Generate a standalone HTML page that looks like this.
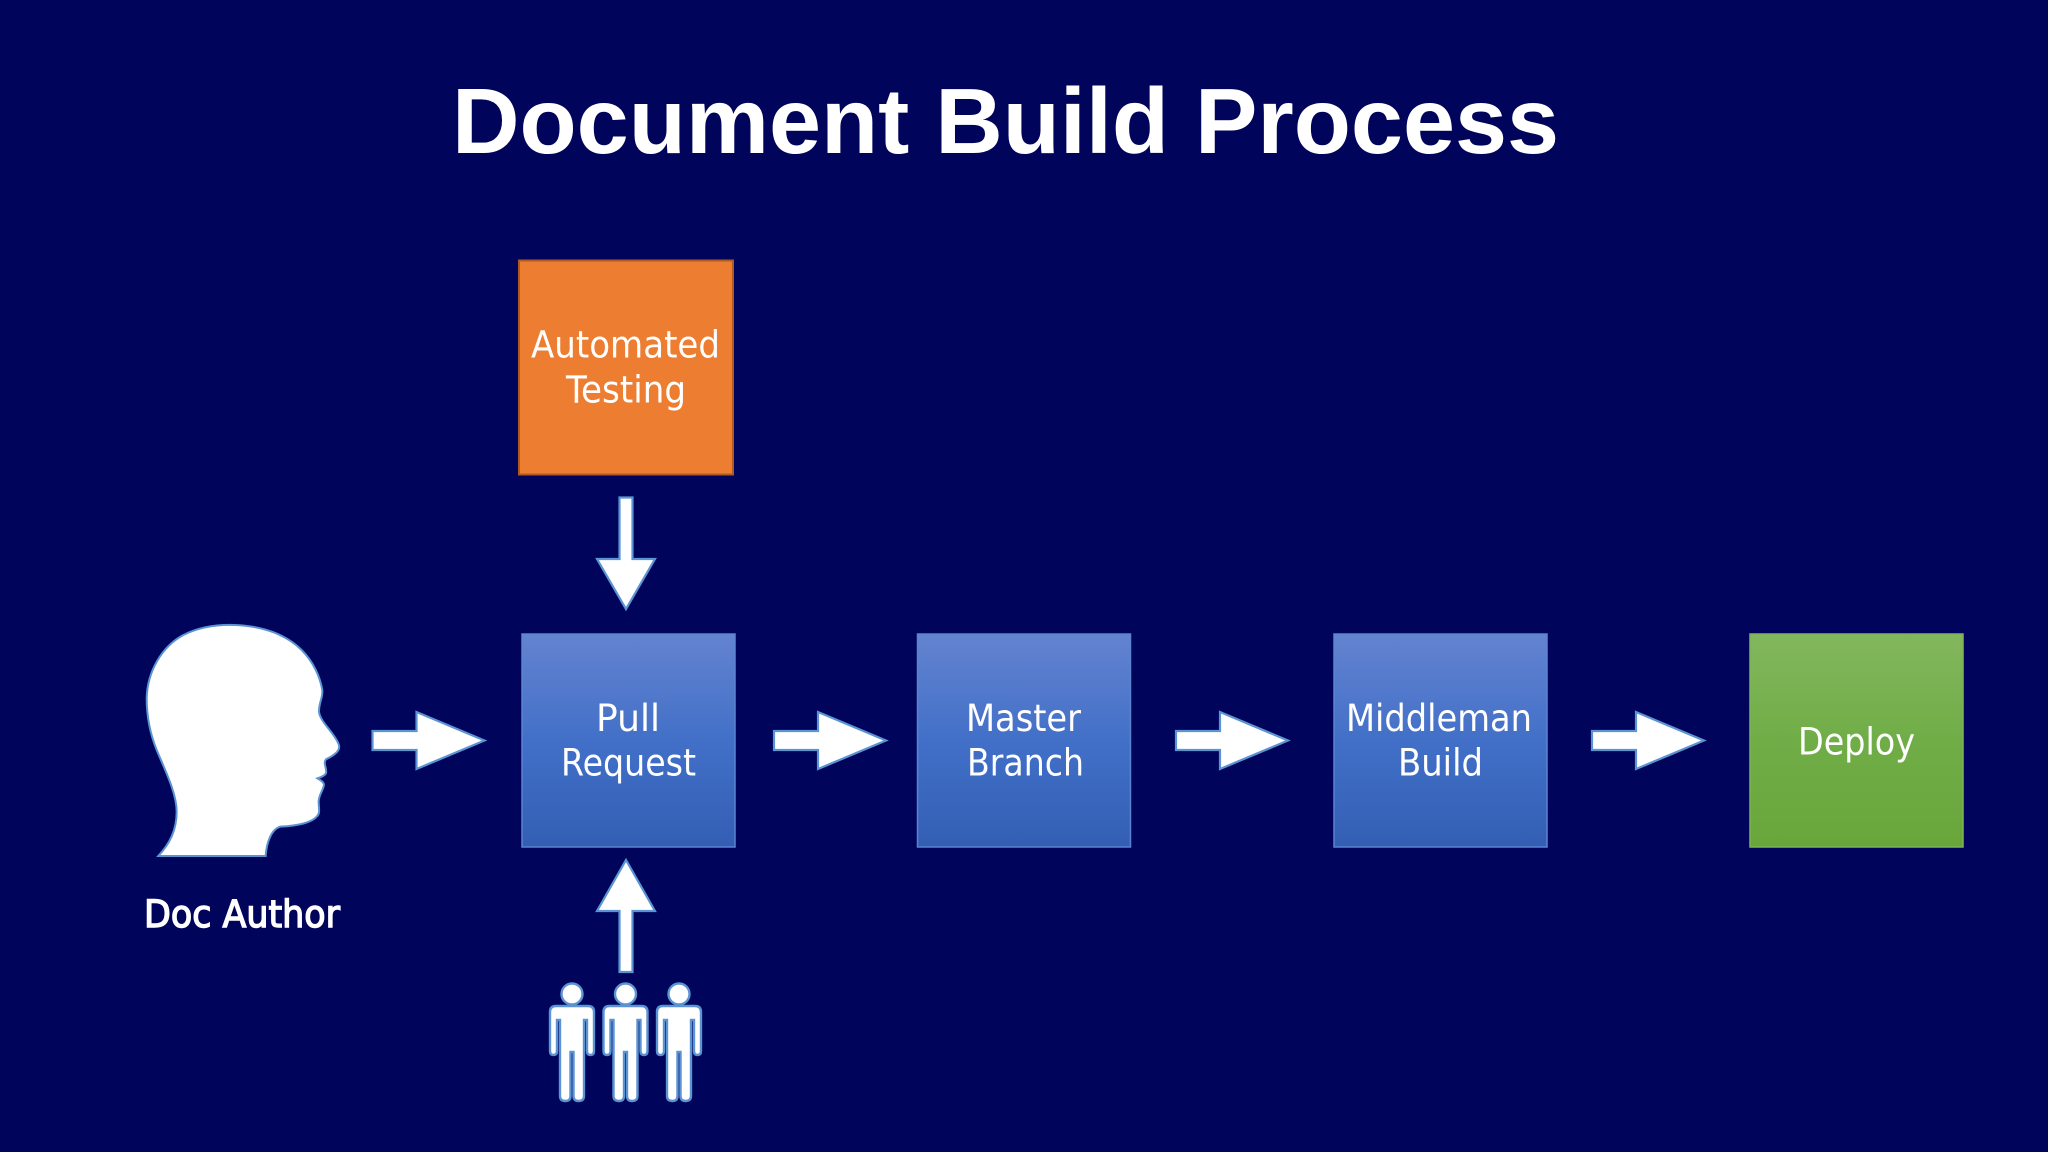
<!DOCTYPE html>
<html><head><meta charset="utf-8"><style>html,body{margin:0;padding:0;background:#00045a}svg{display:block}</style></head>
<body>
<svg xmlns="http://www.w3.org/2000/svg" width="2048" height="1152" viewBox="0 0 2048 1152">
<defs>
<linearGradient id="b" x1="0" y1="0" x2="0" y2="1"><stop offset="0" stop-color="#6483d0"/><stop offset=".5" stop-color="#4270c8"/><stop offset="1" stop-color="#335eb4"/></linearGradient>
<linearGradient id="g" x1="0" y1="0" x2="0" y2="1"><stop offset="0" stop-color="#83b75e"/><stop offset=".5" stop-color="#70ad47"/><stop offset="1" stop-color="#69a63a"/></linearGradient>
<path id="ar" d="M0,-9.5 H44 V-28.5 L112,0 L44,28.5 V9.5 H0 Z" fill="#fff" stroke="#5b93d3" stroke-width="2.2"/>
<g id="p"><circle cx="0" cy="994" r="10.5" fill="#fff" stroke="#5b93d3" stroke-width="2.4"/>
<path d="M-16,1006 H16 Q22,1006 22,1012 V1051 Q22,1055 18.5,1055 Q15,1055 15,1051 V1020 H12 V1096 Q12,1101 6.5,1101 Q1.5,1101 1.5,1096 V1052 H-1.5 V1096 Q-1.5,1101 -6.5,1101 Q-12,1101 -12,1096 V1020 H-15 V1051 Q-15,1055 -18.5,1055 Q-22,1055 -22,1051 V1012 Q-22,1006 -16,1006 Z" fill="#fff" stroke="#5b93d3" stroke-width="2.4"/></g>
</defs>
<rect width="2048" height="1152" fill="#00045a"/>
<text x="452" y="153" font-family="'Liberation Sans',sans-serif" font-weight="700" font-size="93" fill="#fff" textLength="1107" lengthAdjust="spacingAndGlyphs">Document Build Process</text>

<rect x="519" y="260.5" width="214" height="214" fill="#ed7d31" stroke="#ae5a21" stroke-width="2"/>
<rect x="522" y="634" width="213" height="213" fill="url(#b)" stroke="#5b84d0" stroke-width="1.5"/>
<rect x="917.5" y="634" width="213" height="213" fill="url(#b)" stroke="#5b84d0" stroke-width="1.5"/>
<rect x="1334" y="634" width="213" height="213" fill="url(#b)" stroke="#5b84d0" stroke-width="1.5"/>
<rect x="1750" y="634" width="213" height="213" fill="url(#g)" stroke="#7cb356" stroke-width="1.5"/>

<g font-family="'DejaVu Sans',sans-serif" font-size="37" fill="#fff">
<text x="531" y="357.7" textLength="189" lengthAdjust="spacingAndGlyphs">Automated</text>
<text x="566" y="402.7" textLength="120" lengthAdjust="spacingAndGlyphs">Testing</text>
<text x="596" y="731" textLength="64" lengthAdjust="spacingAndGlyphs">Pull</text>
<text x="561" y="775.7" textLength="135" lengthAdjust="spacingAndGlyphs">Request</text>
<text x="966" y="731" textLength="115" lengthAdjust="spacingAndGlyphs">Master</text>
<text x="967" y="775.7" textLength="117" lengthAdjust="spacingAndGlyphs">Branch</text>
<text x="1346" y="731" textLength="186" lengthAdjust="spacingAndGlyphs">Middleman</text>
<text x="1398" y="775.7" textLength="85" lengthAdjust="spacingAndGlyphs">Build</text>
<text x="1798" y="754.7" textLength="117" lengthAdjust="spacingAndGlyphs">Deploy</text>
<text x="144" y="927" stroke="#fff" stroke-width="1.4" textLength="196" lengthAdjust="spacingAndGlyphs">Doc Author</text>
</g>

<use href="#ar" transform="translate(372.5,740.5)"/>
<use href="#ar" transform="translate(774,740.5)"/>
<use href="#ar" transform="translate(1176,740.5)"/>
<use href="#ar" transform="translate(1592,740.5)"/>
<path d="M619.5,497.5 H632.5 V559 H655 L626,609 L597,559 H619.5 Z" fill="#fff" stroke="#5b93d3" stroke-width="2.2"/>
<path d="M619.5,972 H632.5 V911 H655 L626,860 L597,911 H619.5 Z" fill="#fff" stroke="#5b93d3" stroke-width="2.2"/>
<use href="#p" x="572"/><use href="#p" x="625.5"/><use href="#p" x="679"/>

<g transform="translate(120,600) scale(.3333)">
<path d="M115,768 C150,730 170,690 170,635 C170,580 135,510 110,450 C90,400 80,350 80,295 C82,215 125,140 190,105 C240,80 290,73 345,75 C430,78 500,105 545,150 C580,185 600,230 607,270 C609,295 597,305 597,335 C600,365 640,395 655,430 C665,450 645,465 618,478 C608,490 622,505 618,520 C612,530 600,532 592,535 C600,540 612,545 612,555 C608,575 596,585 596,605 C596,625 602,640 590,650 C570,672 520,678 480,680 C455,688 440,725 437,768 Z" fill="#fff" stroke="#5b93d3" stroke-width="6"/>
</g>
</svg>
</body></html>
